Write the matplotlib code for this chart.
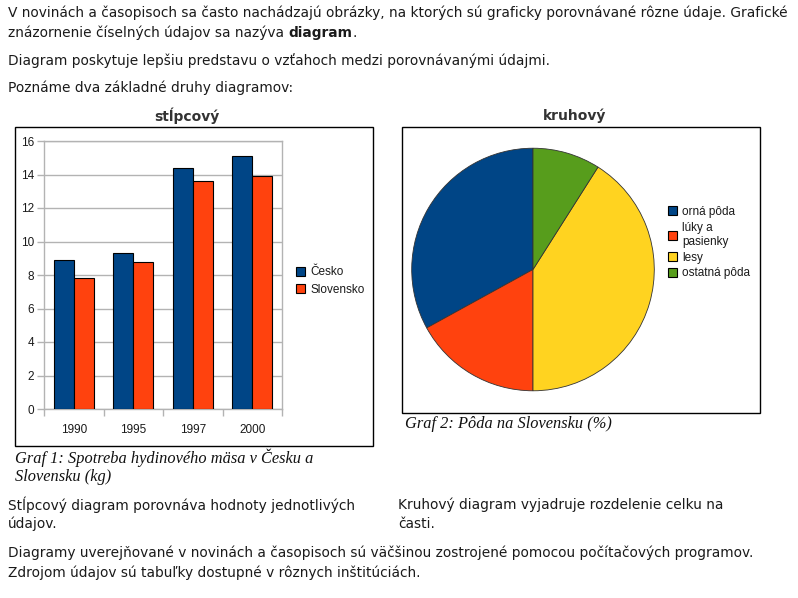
import matplotlib
matplotlib.use("Agg")
import matplotlib.pyplot as plt
import numpy as np
from matplotlib.patches import Rectangle, Patch

# ---- data ----
years = ["1990", "1995", "1997", "2000"]
cesko = [8.9, 9.3, 14.4, 15.1]
slovensko = [7.8, 8.8, 13.6, 13.9]
series_names = ["Česko", "Slovensko"]

land_labels = ["orná pôda", "lúky a\npasienky", "lesy", "ostatná pôda"]
land_values = [33, 17, 41, 9]

yticks = [0, 2, 4, 6, 8, 10, 12, 14, 16]

BLUE = "#004586"
RED = "#ff420e"
YELLOW = "#ffd320"
GREEN = "#579d1c"
TXT = "#1a1a1a"

W, H = 798, 598
fig = plt.figure(figsize=(W / 100, H / 100), dpi=100)
fig.patch.set_facecolor("white")
BODY_FS = 9.95


def fx(x):
    return x / W


def fy(y):
    return 1 - y / H


def body(x, y, s, **kw):
    return fig.text(fx(x), fy(y), s, fontsize=BODY_FS, family="DejaVu Sans",
                    color=TXT, va="center", ha="left", **kw)


# ---- top text ----
body(8, 13, "V novinách a časopisoch sa často nachádzajú obrázky, na ktorých sú graficky porovnávané rôzne údaje. Grafické")
t = body(8, 33, "znázornenie číselných údajov sa nazýva ")
fig.canvas.draw()
r = fig.canvas.get_renderer()
bb = t.get_window_extent(renderer=r)
tb = fig.text(bb.x1 / W, fy(33), "diagram", fontsize=BODY_FS, family="DejaVu Sans",
              weight="bold", color=TXT, va="center", ha="left")
bb2 = tb.get_window_extent(renderer=r)
fig.text(bb2.x1 / W, fy(33), ".", fontsize=BODY_FS, family="DejaVu Sans",
         color=TXT, va="center", ha="left")
body(8, 61, "Diagram poskytuje lepšiu predstavu o vzťahoch medzi porovnávanými údajmi.")
body(8, 88, "Poznáme dva základné druhy diagramov:")

# ---- bottom text ----
body(8, 505, "Stĺpcový diagram porovnáva hodnoty jednotlivých")
body(8, 524, "údajov.")
body(398, 505, "Kruhový diagram vyjadruje rozdelenie celku na")
body(398, 524, "časti.")
body(8, 553, "Diagramy uverejňované v novinách a časopisoch sú väčšinou zostrojené pomocou počítačových programov.")
body(8, 573, "Zdrojom údajov sú tabuľky dostupné v rôznych inštitúciách.")

# ---- frames ----
fig.patches.append(Rectangle((fx(15), fy(446)), (373 - 15) / W, (446 - 127) / H,
                             transform=fig.transFigure, fill=False, ec="black", lw=1))
fig.patches.append(Rectangle((fx(402), fy(413)), (760 - 402) / W, (413 - 127) / H,
                             transform=fig.transFigure, fill=False, ec="black", lw=1))

# titles
fig.text(fx(187), fy(116), "stĺpcový", fontsize=10, weight="bold", family="DejaVu Sans",
         color="#333333", ha="center", va="center")
fig.text(fx(575), fy(116), "kruhový", fontsize=10, weight="bold", family="DejaVu Sans",
         color="#333333", ha="center", va="center")

# captions
cap = dict(fontsize=11.8, family="Liberation Serif", style="italic", color="#111111",
           ha="left", va="center")
fig.text(fx(15), fy(458), "Graf 1: Spotreba hydinového mäsa v Česku a", **cap)
fig.text(fx(15), fy(477), "Slovensku (kg)", **cap)
fig.text(fx(405), fy(424), "Graf 2: Pôda na Slovensku (%)", **cap)

# ---- bar chart ----
ax = fig.add_axes([fx(44), fy(409), 238 / W, 268 / H])
x = np.arange(len(years))
bw = 0.336
ax.bar(x - bw / 2, cesko, bw, color=BLUE, edgecolor="black", lw=0.8, zorder=3)
ax.bar(x + bw / 2, slovensko, bw, color=RED, edgecolor="black", lw=0.8, zorder=3)
ax.set_xlim(-0.5, len(years) - 0.5)
ax.set_ylim(0, 16)
ax.set_yticks(yticks)
ax.set_yticklabels([str(v) for v in yticks])
ax.set_xticks(x)
ax.set_xticklabels(years)
ax.set_xticks(np.arange(-0.5, len(years), 1.0), minor=True)
ax.tick_params(axis="x", which="major", length=0, pad=11)
ax.tick_params(axis="x", which="minor", length=5, color="#b3b3b3", width=1)
ax.tick_params(axis="y", length=5, color="#b3b3b3", width=1, pad=2)
for lab in ax.get_xticklabels() + ax.get_yticklabels():
    lab.set_fontfamily("Liberation Sans")
    lab.set_fontsize(8.5)
    lab.set_color(TXT)
ax.grid(axis="y", color="#b3b3b3", lw=1, zorder=0)
for s in ax.spines.values():
    s.set_color("#b3b3b3")
    s.set_linewidth(1)
ax.set_facecolor("white")

handles = [Patch(facecolor=BLUE, edgecolor="black", lw=0.8),
           Patch(facecolor=RED, edgecolor="black", lw=0.8)]
fig.legend(handles, series_names, loc="center left",
           bbox_to_anchor=(fx(296), fy(281)), frameon=False,
           prop={"family": "Liberation Sans", "size": 8.5},
           handlelength=0.8, handleheight=0.8, handletextpad=0.4,
           labelspacing=0.45, borderpad=0, borderaxespad=0, labelcolor=TXT)

# ---- pie chart ----
pax = fig.add_axes([fx(533 - 122.5), fy(269.5 + 122.5), 245 / W, 245 / H])
pax.pie(land_values, colors=[BLUE, RED, YELLOW, GREEN], startangle=90,
        counterclock=True, radius=1,
        wedgeprops=dict(edgecolor="#333333", linewidth=0.6))
pax.set_xlim(-1.01, 1.01)
pax.set_ylim(-1.01, 1.01)
pax.set_aspect("equal")
pax.axis("off")

phandles = [Patch(facecolor=c, edgecolor="black", lw=0.8) for c in [BLUE, RED, YELLOW, GREEN]]
fig.legend(phandles, land_labels, loc="upper left",
           bbox_to_anchor=(fx(668), fy(206)), frameon=False,
           prop={"family": "Liberation Sans", "size": 8.5},
           handlelength=0.8, handleheight=0.8, handletextpad=0.4,
           labelspacing=0.33, borderpad=0, borderaxespad=0, labelcolor=TXT)

fig.savefig("out.png", dpi=100, facecolor="white")
